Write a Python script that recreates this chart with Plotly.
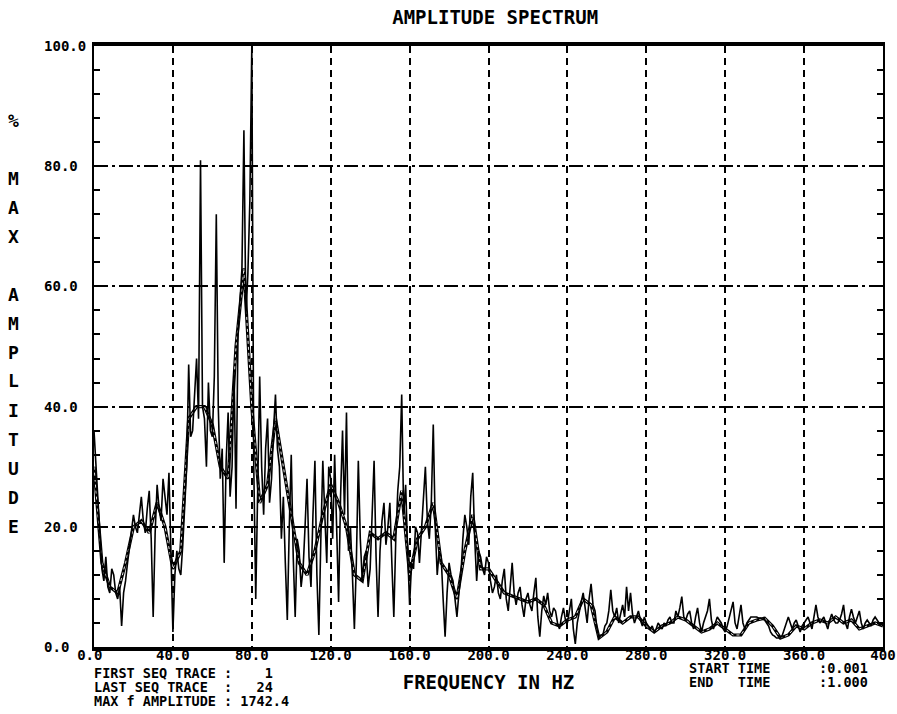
import plotly.graph_objects as go

# ---- spectrum data (percent of max amplitude), 1 Hz bins from 0 to 400 Hz ----
RAW_STEP_HZ = 1.0
amp_raw = [
    36, 30, 24, 20, 13, 11, 15, 10, 9, 13,            # 0-9
    12, 9, 8, 10, 3.5, 9, 11, 14, 17, 20,             # 10-19
    22, 20, 19, 22, 25, 21, 19, 23, 26, 18,           # 20-29
    5, 19, 27, 23, 21, 28, 25, 22, 29, 14,            # 30-39
    2.5, 12, 16, 13, 12, 17, 24, 30, 47, 35,          # 40-49
    36, 42, 48, 38, 81, 40, 38, 30, 44, 36,           # 50-59
    35, 45, 72, 40, 28, 33, 14, 31, 39, 25,           # 60-69
    30, 46, 23, 52, 57, 63, 86, 55, 62, 74,           # 70-79
    100, 30, 8, 26, 45, 30, 22, 33, 38, 24,           # 80-89
    28, 36, 42, 33, 30, 18, 25, 14, 4.5, 20,          # 90-99
    32, 15, 5, 18, 16, 10, 13, 20, 28, 15,            # 100-109
    10, 22, 31, 12, 2, 18, 31, 22, 14, 30,            # 110-119
    28, 18, 32, 20, 7.5, 25, 36, 22, 39, 16,          # 120-129
    20, 12, 3, 14, 31, 18, 11, 15, 16, 10,            # 130-139
    13, 22, 31, 15, 5, 16, 21, 24, 17, 20,            # 140-149
    24, 14, 5, 18, 26, 30, 42, 22, 27, 16,            # 150-159
    7, 14, 13, 20, 19, 14, 20, 25, 30, 21,            # 160-169
    18, 24, 37, 20, 12, 16, 15, 8, 1.7, 9,            # 170-179
    14, 12, 11, 8, 5, 9, 12, 18, 22, 20,              # 180-189
    17, 25, 29, 18, 11, 16, 15, 13, 12, 15,           # 190-199
    14, 11, 9, 10, 12, 9, 8, 11, 13, 8,               # 200-209
    6, 10, 14, 9, 7, 9, 10, 7, 5, 8,                  # 210-219
    9, 7, 6, 9, 11.5, 5, 1.7, 6, 8.5, 7,              # 220-229
    9, 6, 5, 6.5, 6, 4, 3, 5, 6.5, 4.5,               # 230-239
    4, 6, 8, 3, 0.5, 4, 6, 7.5, 9, 6,                 # 240-249
    4, 8, 10.5, 7, 6, 3, 1.5, 2, 2, 3.5,              # 250-259
    4, 6, 9.5, 6, 5, 6.5, 4, 5.5, 7, 5,               # 260-269
    10, 6, 9, 5.5, 4, 5, 6, 4.5, 3.5, 5,              # 270-279
    4, 3.5, 3, 3.5, 2.5, 3, 4, 3.5, 3, 4,             # 280-289
    3.5, 4.5, 5, 4, 4, 6, 5, 6.5, 8.4, 5,             # 290-299
    4.5, 5.5, 6, 4, 3, 5, 6.5, 4, 2.5, 4,             # 300-309
    5, 6, 8, 4.5, 3, 4, 5, 4.5, 4, 3,                 # 310-319
    2.5, 3.5, 5, 6, 7.5, 4, 3, 5, 7, 4,               # 320-329
    3, 4, 4.5, 5, 5, 5, 5, 4.8, 4.8, 4.6,             # 330-339
    4.5, 4, 3.5, 2.5, 2, 1.8, 1.5, 1.5, 1.5, 2,       # 340-349
    3, 4, 5, 4, 3, 4, 4.5, 3.5, 2.5, 3.5,             # 350-359
    4, 4.5, 5, 4, 3, 5, 7, 5, 4, 4.5,                 # 360-369
    5, 4, 3, 4.5, 5.5, 4.5, 4, 4, 4.5, 5.5,           # 370-379
    7, 4, 3, 5, 6.3, 5, 4, 5, 6, 4,                   # 380-389
    3, 4, 4.5, 4, 3.5, 4.5, 5, 4.5, 4, 3.8,           # 390-399
    3.5,                                              # 400
]

# ---- smoothed level, 4 Hz bins ----
AVG_STEP_HZ = 4.0
amp_avg = [
    30, 14, 10, 9, 14, 20, 21, 19, 24, 20,            # 0-36
    13, 16, 38, 40, 40, 37, 30, 28, 50, 63,           # 40-76
    40, 24, 27, 38, 30, 22, 14, 12, 16, 22,           # 80-116
    27, 24, 20, 12, 11, 19, 18, 19, 18, 26,           # 120-156
    12, 18, 20, 24, 14, 12, 8, 16, 22, 13,            # 160-196
    13, 11, 9, 8.5, 8, 7.5, 8, 7, 4, 3.5,             # 200-236
    4.5, 5, 8, 7, 1.5, 2.5, 5, 4, 5, 5,               # 240-276
    3.5, 2.5, 3.5, 4, 5, 4.5, 3.5, 2.5, 3, 4,         # 280-316
    3, 2, 2, 4, 4.5, 4.8, 3.5, 1.5, 2, 3.5,           # 320-356
    3, 4, 4.5, 4, 5, 4, 4.5, 3, 3.5, 4,               # 360-396
    3.5,                                              # 400
]

freq_raw = [i * RAW_STEP_HZ for i in range(len(amp_raw))]
freq_avg = [i * AVG_STEP_HZ for i in range(len(amp_avg))]

X_TICKS = [0, 40, 80, 120, 160, 200, 240, 280, 320, 360, 400]
X_TICK_TEXT = ["0.0\u00a0", "40.0", "80.0", "120.0", "160.0", "200.0",
               "240.0", "280.0", "320.0", "360.0", "400"]
Y_TICKS = [0, 20, 40, 60, 80, 100]
Y_TICK_TEXT = ["0.0\u00a0\u00a0", "20.0\u00a0", "40.0\u00a0", "60.0\u00a0",
               "80.0\u00a0", "100.0"]
Y_MINOR = [v for v in range(4, 100, 4) if v % 20 != 0]

TITLE = "AMPLITUDE SPECTRUM"
X_TITLE = "FREQUENCY IN HZ"
Y_TITLE_LETTERS = ["%", "", "M", "A", "X", "", "A", "M", "P", "L", "I",
                   "T", "U", "D", "E"]
INFO_LEFT = ["FIRST SEQ TRACE :    1",
             "LAST SEQ TRACE  :   24",
             "MAX f AMPLITUDE : 1742.4"]
INFO_RIGHT = ["START TIME      :0.001",
              "END   TIME      :1.000"]

FONT = "DejaVu Sans Mono"
INK = "black"

# ---- figure geometry (pixels) ----
W, H = 897, 714
ML, MR, MT, MB = 94, 14, 46, 67
PW, PH = W - ML - MR, H - MT - MB


def px_x(px):
    return (px - ML) / PW


def px_y(py):
    return (H - MB - py) / PH


fig = go.Figure()

# smoothed level drawn as a heavy hollow line
fig.add_trace(go.Scatter(x=freq_avg, y=amp_avg, mode="lines",
                         line=dict(color=INK, width=3.2), hoverinfo="skip"))
fig.add_trace(go.Scatter(x=freq_avg, y=amp_avg, mode="lines",
                         line=dict(color="white", width=0.9, dash="dot"),
                         hoverinfo="skip"))
# raw spectrum
fig.add_trace(go.Scatter(x=freq_raw, y=amp_raw, mode="lines",
                         line=dict(color=INK, width=1.6)))

tick_font = dict(family=FONT, size=14, color=INK, weight="bold")
info_font = dict(family=FONT, size=13.5, color=INK, weight="bold")

fig.update_layout(
    width=W, height=H,
    margin=dict(l=ML, r=MR, t=MT, b=MB, pad=0, autoexpand=False),
    paper_bgcolor="white", plot_bgcolor="white",
    showlegend=False,
    font=dict(family=FONT, color=INK),
    title=dict(text=TITLE, x=0.552, xanchor="center", xref="container",
               y=1 - 17.5 / H, yanchor="middle", yref="container",
               font=dict(family=FONT, size=19, color=INK, weight="bold")),
    xaxis=dict(
        range=[0, 400], tickmode="array", tickvals=X_TICKS,
        ticktext=X_TICK_TEXT, ticks="", tickfont=tick_font,
        ticklabelstandoff=-8, ticklabeloverflow="allow",
        showgrid=True, gridcolor=INK, gridwidth=1.5, griddash="7px,5px",
        showline=True, linecolor=INK, linewidth=4, mirror=True,
        zeroline=False,
        title=dict(text=X_TITLE, standoff=15,
                   font=dict(family=FONT, size=19, color=INK, weight="bold")),
    ),
    yaxis=dict(
        range=[0, 100], tickmode="array", tickvals=Y_TICKS,
        ticktext=Y_TICK_TEXT, ticks="inside", ticklen=6, tickwidth=1.5,
        tickcolor=INK, tickfont=tick_font, ticklabelstandoff=3,
        minor=dict(tickmode="array", tickvals=Y_MINOR, ticks="inside",
                   ticklen=6, tickwidth=1.5, tickcolor=INK, showgrid=False),
        showgrid=True, gridcolor=INK, gridwidth=1.5,
        griddash="14px,4px,3px,4px",
        showline=True, linecolor=INK, linewidth=2, mirror="allticks",
        zeroline=False,
    ),
)

# vertical axis title, one glyph per row
for i, ch in enumerate(Y_TITLE_LETTERS):
    if not ch:
        continue
    fig.add_annotation(text=ch, xref="paper", yref="paper",
                       x=px_x(13), y=px_y(120 + 29 * i),
                       xanchor="center", yanchor="middle", showarrow=False,
                       font=dict(family=FONT, size=18, color=INK,
                                 weight="bold"))

# run information blocks under the axis
for i, line in enumerate(INFO_LEFT):
    fig.add_annotation(text=line.replace(" ", "\u00a0"), xref="paper",
                       yref="paper", x=px_x(92), y=px_y(673 + 14 * i),
                       xanchor="left", yanchor="middle", showarrow=False,
                       font=info_font)
for i, line in enumerate(INFO_RIGHT):
    fig.add_annotation(text=line.replace(" ", "\u00a0"), xref="paper",
                       yref="paper", x=px_x(687), y=px_y(668 + 13.5 * i),
                       xanchor="left", yanchor="middle", showarrow=False,
                       font=info_font)

fig.write_html("out.html")
